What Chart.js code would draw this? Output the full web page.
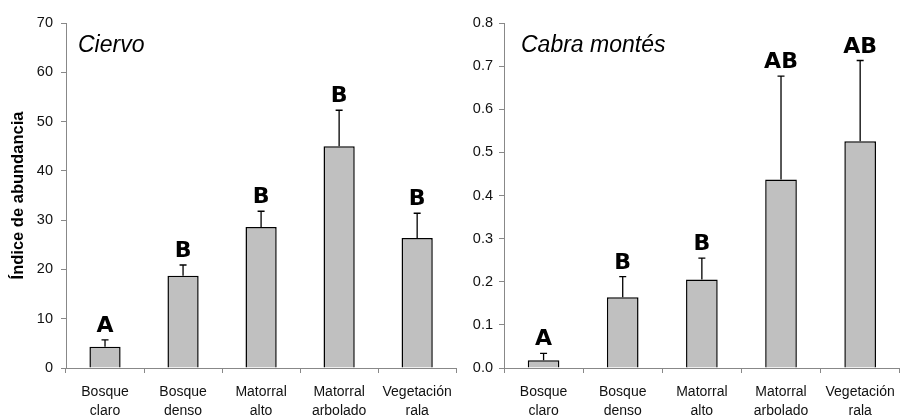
<!DOCTYPE html>
<html lang="es">
<head>
<meta charset="UTF-8" />
<script src="https://cdn.jsdelivr.net/npm/chart.js@4/dist/chart.umd.min.js"></script>
<title>Índice de abundancia</title>
<style>
  body { margin: 0; background: #fff; }
  #wrap { position: relative; width: 905px; height: 419px; }
  canvas { position: absolute; top: 0; }
  #left { left: 0; }
  #right { left: 462px; }
</style>
</head>
<body>
<div id="wrap">
  <canvas id="left" width="462" height="419"></canvas>
  <canvas id="right" width="443" height="419"></canvas>
</div>
<script>
const categories = [['Bosque', 'claro'], ['Bosque', 'denso'], ['Matorral', 'alto'], ['Matorral', 'arbolado'], ['Vegetación', 'rala']];

const ciervoMean = [4.3, 18.7, 28.6, 45.0, 26.4];
const ciervoErr = [1.4, 2.2, 3.2, 7.3, 5.0];
const ciervoLetters = ['A', 'B', 'B', 'B', 'B'];

const cabraMean = [0.018, 0.164, 0.205, 0.437, 0.526];
const cabraErr = [0.016, 0.048, 0.050, 0.240, 0.187];
const cabraLetters = ['A', 'B', 'B', 'AB', 'AB'];

// draws the upper error bars, the significance letters and the species name
const extras = {
  id: 'extras',
  afterDatasetsDraw(chart, args, opts) {
    const ctx = chart.ctx;
    const y = chart.scales.y;
    const meta = chart.getDatasetMeta(0);
    ctx.save();
    meta.data.forEach((bar, i) => {
      const top = y.getPixelForValue(opts.means[i] + opts.errs[i]);
      const base = y.getPixelForValue(opts.means[i]);
      ctx.strokeStyle = '#000';
      ctx.lineWidth = 1.3;
      ctx.beginPath();
      ctx.moveTo(bar.x, base);
      ctx.lineTo(bar.x, top);
      ctx.moveTo(bar.x - 3.5, top);
      ctx.lineTo(bar.x + 3.5, top);
      ctx.stroke();
      ctx.fillStyle = '#000';
      ctx.font = 'bold 22px "DejaVu Sans"';
      ctx.textAlign = 'center';
      ctx.textBaseline = 'alphabetic';
      ctx.fillText(opts.letters[i], bar.x, top - 8);
    });
    ctx.font = 'italic 23px "Liberation Sans"';
    ctx.textAlign = 'left';
    ctx.fillText(opts.name, chart.chartArea.left + opts.nameDx, 52);
    ctx.restore();
  }
};

function makeChart(id, means, errs, letters, name, cfg) {
  return new Chart(document.getElementById(id), {
    type: 'bar',
    data: {
      labels: categories,
      datasets: [{
        data: means,
        backgroundColor: '#c0c0c0',
        borderColor: '#000',
        borderWidth: 1.5,
        barPercentage: 0.4,
        categoryPercentage: 1
      }]
    },
    options: {
      responsive: false,
      animation: false,
      layout: { padding: { top: 23, right: 2, left: 0, bottom: 0 } },
      plugins: {
        legend: { display: false },
        tooltip: { enabled: false },
        extras: { means: means, errs: errs, letters: letters, name: name, nameDx: cfg.nameDx }
      },
      scales: {
        x: {
          offset: true,
          grid: { offset: true, drawOnChartArea: false, color: '#888', tickLength: 5 },
          border: { color: '#888', width: 1 },
          ticks: { color: '#111', padding: 10, maxRotation: 0, autoSkip: false,
                   font: { family: 'Liberation Sans', size: 14, lineHeight: 1.35 } },
          afterFit(s) { s.height = 51; }
        },
        y: {
          min: 0,
          max: cfg.max,
          ticks: { stepSize: cfg.step, color: '#111', padding: cfg.pad,
                   font: { family: 'Liberation Sans', size: 14.5 },
                   callback: cfg.fmt },
          grid: { drawOnChartArea: false, color: '#888', tickLength: 5 },
          border: { color: '#888', width: 1 },
          title: cfg.title ? { display: true, text: cfg.title, color: '#000',
                   padding: { top: 9, bottom: 0 },
                   font: { family: 'Liberation Sans', size: 16.5, weight: 'bold' } } : { display: false },
          afterFit(s) { s.width = cfg.yWidth; }
        }
      }
    },
    plugins: [extras]
  });
}

makeChart('left', ciervoMean, ciervoErr, ciervoLetters, 'Ciervo', {
  max: 70, step: 10, pad: 8, yWidth: 66, nameDx: 12,
  title: 'Índice de abundancia',
  fmt: v => v
});
makeChart('right', cabraMean, cabraErr, cabraLetters, 'Cabra montés', {
  max: 0.8, step: 0.1, pad: 6, yWidth: 42, nameDx: 17,
  title: null,
  fmt: v => Number(v).toFixed(1)
});
</script>
</body>
</html>
